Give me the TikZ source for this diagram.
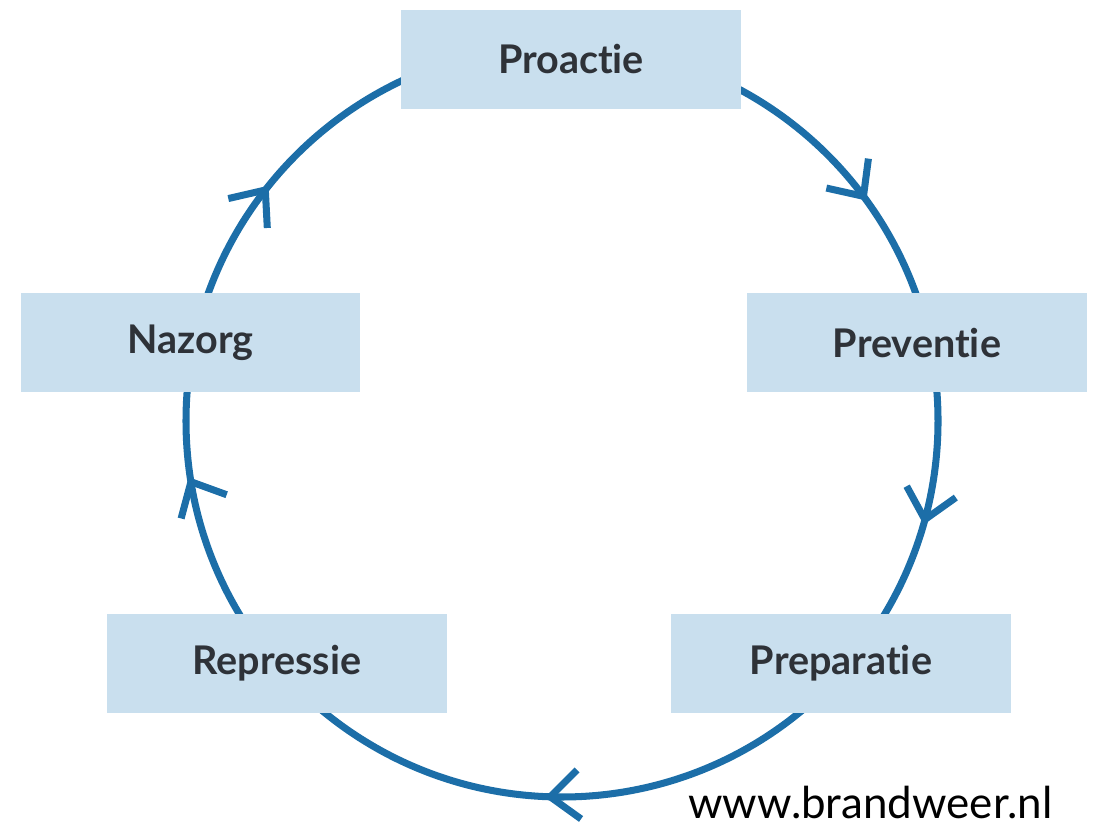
\documentclass[tikz,border=0pt]{standalone}
\usepackage{fontspec}
\setmainfont[Ligatures={NoCommon,NoRequired,NoContextual},RawFeature={-liga;-dlig;-clig}]{Lato}
\usetikzlibrary{calc}
\definecolor{ringblue}{RGB}{28,110,168}
\definecolor{boxfill}{RGB}{201,223,238}
\definecolor{labeltext}{RGB}{46,50,56}
\begin{document}
\begin{tikzpicture}[x=0.02cm,y=0.02cm,
  ring/.style={draw=ringblue,line width=4pt},
  barb/.style={draw=ringblue,line width=4pt,line join=miter,line cap=butt},
  phase/.style={fill=boxfill,draw=none,minimum width=6.8cm,minimum height=1.98cm,
    inner sep=0pt,text=labeltext,font=\fontsize{22.5}{26}\selectfont\bfseries}]
\useasboundingbox (0,0) rectangle (1097,827);
\coordinate (c) at (562,406);
\draw[ring] (c) circle[radius=376];
% arrows (open chevrons)
\foreach \t/\a/\b in {36.7/82.5/167.5, -15.2/118.6/35.4, -91.8/45/-35.7, 189.3/-20/-105, 142.1/193/273}{
  \coordinate (tip) at ($(c)+(\t:376)$);
  \draw[barb] ($(tip)+(\a:38)$) -- (tip) -- ($(tip)+(\b:38)$);
}
\node[phase] (proactie) at (571,767.5) {Proactie};
\node[phase] (preventie) at (917,484) {Preventie};
\node[phase] (preparatie) at (841,163.5) {Preparatie};
\node[phase] (repressie) at (277,163.5) {Repressie};
\node[phase] (nazorg) at (190.5,484.5) {Nazorg};
\node[anchor=base west,inner sep=0pt,font=\fontsize{25}{30}\selectfont] (url) at (688,9) {www.brandweer.nl};
\end{tikzpicture}
\end{document}
